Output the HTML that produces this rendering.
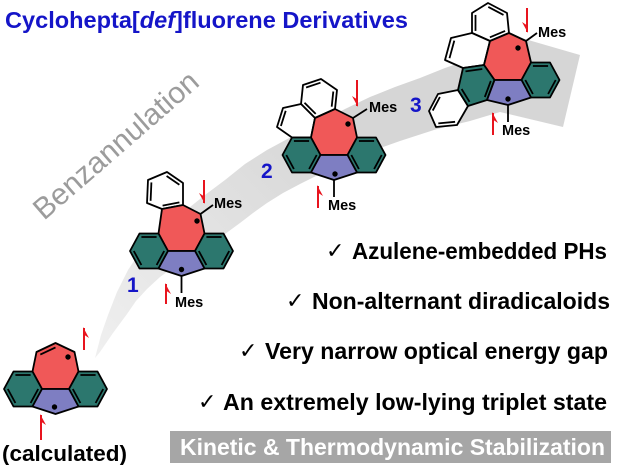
<!DOCTYPE html>
<html>
<head>
<meta charset="utf-8">
<style>
  html,body{margin:0;padding:0;background:#fff;}
  svg{display:block;}
  .b{font-family:"Liberation Sans",Arial,sans-serif;font-weight:bold;}
</style>
</head>
<body>
<svg width="618" height="465" viewBox="0 0 618 465" xmlns="http://www.w3.org/2000/svg">
  <defs>
    <linearGradient id="bg" gradientUnits="userSpaceOnUse" x1="100" y1="350" x2="330" y2="130">
      <stop offset="0" stop-color="#efefef"/>
      <stop offset="1" stop-color="#d6d6d6"/>
    </linearGradient>
  </defs>
  <rect width="618" height="465" fill="#fff"/>

  <!-- curved gray arrow -->
  <polygon fill="url(#bg)" points="95,358 101,335 108,315 117,292 128,270 140,252 155,236 170,222 185,211 205,195 225,180 245,164 267,150 293,136 320,122 345,109 370,97 395,87 420,78 445,68 465,61 487,28 580,55 563,127 500,112 470,121 437,129 400,141 372,151 347,162 322,173 300,184 283,193 267,203 253,213 240,223 225,234 210,245 192,255 175,266 160,277 147,289 136,301 127,314 113,333 100,352"/>

  <!-- Benzannulation -->
  <text x="0" y="0" transform="translate(44,221) rotate(-41)" font-family="Liberation Sans, Arial, sans-serif" font-size="30" fill="#9c9c9c" textLength="208" lengthAdjust="spacingAndGlyphs">Benzannulation</text>

  <!-- Title -->
  <text class="b" x="5" y="28" font-size="23" fill="#1515c8" textLength="403" lengthAdjust="spacingAndGlyphs">Cyclohepta[<tspan font-style="italic">def</tspan>]fluorene Derivatives</text>

  <!-- ============ Molecule: calculated ============ -->
  <g stroke="#000" stroke-width="1.8" stroke-linejoin="round">
    <polygon fill="#F05858" points="42,389 32.5,371.5 36.5,352 55.5,343 74.5,352 78.5,371.5 69,389"/>
    <polygon fill="#2C776E" points="42,389 32.5,406.5 13.5,406.5 4,389 13.5,371.5 32.5,371.5"/>
    <polygon fill="#2C776E" points="69,389 78.5,406.5 97.5,406.5 107,389 97.5,371.5 78.5,371.5"/>
    <polygon fill="#7E7EC2" points="42,389 69,389 78.5,406.5 55.5,414 32.5,406.5"/>
    <line x1="15.4" y1="375" x2="30.6" y2="375"/>
    <line x1="7.8" y1="389" x2="15.4" y2="403"/>
    <line x1="38.2" y1="389" x2="30.6" y2="403"/>
    <line x1="80.4" y1="375" x2="95.6" y2="375"/>
    <line x1="103.2" y1="389" x2="95.6" y2="403"/>
    <line x1="72.8" y1="389" x2="80.4" y2="403"/>
    <line x1="40.3" y1="354.6" x2="55.5" y2="347.4"/>
  </g>
  <circle cx="68" cy="357" r="2.7" fill="#000"/>
  <circle cx="54.5" cy="407" r="2.7" fill="#000"/>
  <g stroke="#e8141e" stroke-width="2" fill="#e8141e">
    <line x1="84" y1="350" x2="84" y2="328"/>
    <polygon stroke="none" points="83,327 89,338 83,334"/>
    <line x1="41" y1="440" x2="41" y2="415"/>
    <polygon stroke="none" points="40,414 46,425 40,421"/>
  </g>
  <text class="b" x="2" y="461" font-size="22" fill="#000" textLength="125" lengthAdjust="spacingAndGlyphs">(calculated)</text>

  <!-- ============ Molecule 1 ============ -->
  <g stroke="#000" stroke-width="1.8" stroke-linejoin="round">
    <polygon fill="#fff" points="148,180 167,172 183,183 183,205 162,209 147,203"/>
    <polygon fill="#F05858" points="168,251 158.5,233.5 162,209 183,205 200.5,214 204.5,233.5 195,251"/>
    <polygon fill="#2C776E" points="168,251 158.5,268.5 139.5,268.5 130,251 139.5,233.5 158.5,233.5"/>
    <polygon fill="#2C776E" points="195,251 204.5,268.5 223.5,268.5 233,251 223.5,233.5 204.5,233.5"/>
    <polygon fill="#7E7EC2" points="168,251 195,251 204.5,268.5 181.5,276 158.5,268.5"/>
    <line x1="141.4" y1="237" x2="156.6" y2="237"/>
    <line x1="133.8" y1="251" x2="141.4" y2="265"/>
    <line x1="164.2" y1="251" x2="156.6" y2="265"/>
    <line x1="206.4" y1="237" x2="221.6" y2="237"/>
    <line x1="229.2" y1="251" x2="221.6" y2="265"/>
    <line x1="198.8" y1="251" x2="206.4" y2="265"/>
    <line x1="151.4" y1="182.4" x2="150.6" y2="200.8"/>
    <line x1="166.6" y1="176" x2="179.4" y2="184.8"/>
    <line x1="162.6" y1="205.6" x2="179.4" y2="202.4"/>
    <line x1="200.5" y1="214" x2="213" y2="205"/>
    <line x1="181.5" y1="276" x2="181.5" y2="293"/>
  </g>
  <circle cx="197" cy="221" r="2.7" fill="#000"/>
  <circle cx="181.5" cy="269.5" r="2.7" fill="#000"/>
  <g stroke="#e8141e" stroke-width="2" fill="#e8141e">
    <line x1="204" y1="180" x2="204" y2="203"/>
    <polygon stroke="none" points="205,204 199,193 205,197"/>
    <line x1="166" y1="304" x2="166" y2="284"/>
    <polygon stroke="none" points="165,283 171,294 165,290"/>
  </g>
  <text class="b" x="214" y="208" font-size="14.5" fill="#000">Mes</text>
  <text class="b" x="175" y="307" font-size="14.5" fill="#000">Mes</text>
  <text class="b" x="127" y="292" font-size="21" fill="#1515c8">1</text>

  <!-- ============ Molecule 2 ============ -->
  <g stroke="#000" stroke-width="1.8" stroke-linejoin="round">
    <polygon fill="#fff" points="315,118 335,109 337,90 321,79 303,85 301,104"/>
    <polygon fill="#fff" points="301,104 283,108 277,127 292,137.5 311,137.5 315,118"/>
    <polygon fill="#F05858" points="320.5,155 311,137.5 315,118 335,109 353,118 357,137.5 347.5,155"/>
    <polygon fill="#2C776E" points="320.5,155 311,172.5 292,172.5 282.5,155 292,137.5 311,137.5"/>
    <polygon fill="#2C776E" points="347.5,155 357,172.5 376,172.5 385.5,155 376,137.5 357,137.5"/>
    <polygon fill="#7E7EC2" points="320.5,155 347.5,155 357,172.5 334,180 311,172.5"/>
    <line x1="293.9" y1="141" x2="309.1" y2="141"/>
    <line x1="286.3" y1="155" x2="293.9" y2="169"/>
    <line x1="316.7" y1="155" x2="309.1" y2="169"/>
    <line x1="358.9" y1="141" x2="374.1" y2="141"/>
    <line x1="381.7" y1="155" x2="374.1" y2="169"/>
    <line x1="351.3" y1="155" x2="358.9" y2="169"/>
    <line x1="306.1" y1="87.5" x2="320.5" y2="82.7"/>
    <line x1="333.3" y1="91.5" x2="331.7" y2="106.7"/>
    <line x1="304.5" y1="102.7" x2="315.7" y2="113.9"/>
    <line x1="285.7" y1="110.8" x2="280.9" y2="126"/>
    <line x1="353" y1="118" x2="367" y2="109"/>
    <line x1="334" y1="180" x2="334" y2="197"/>
  </g>
  <circle cx="348" cy="124" r="2.7" fill="#000"/>
  <circle cx="335" cy="174" r="2.7" fill="#000"/>
  <g stroke="#e8141e" stroke-width="2" fill="#e8141e">
    <line x1="357" y1="80" x2="357" y2="106"/>
    <polygon stroke="none" points="358,107 352,96 358,100"/>
    <line x1="318" y1="208" x2="318" y2="186"/>
    <polygon stroke="none" points="317,185 323,196 317,192"/>
  </g>
  <text class="b" x="369" y="112" font-size="14.5" fill="#000">Mes</text>
  <text class="b" x="328" y="210" font-size="14.5" fill="#000">Mes</text>
  <text class="b" x="261" y="178" font-size="21" fill="#1515c8">2</text>

  <!-- ============ Molecule 3 ============ -->
  <g stroke="#000" stroke-width="1.8" stroke-linejoin="round">
    <polygon fill="#fff" points="472,13 488,3 507,13 509,33 490,41 472,33"/>
    <polygon fill="#fff" points="472,33 451,38 445,60 463,68 484,65 490,41"/>
    <polygon fill="#fff" points="458,90 468,106 457,125 436,127 429,111 438,94"/>
    <polygon fill="#F05858" points="494.5,80 484,65 490,41 509,33 526,41 531,62.5 521.5,80"/>
    <polygon fill="#2C776E" points="463,68 484,65 494.5,80 487,100 468,106 458,90"/>
    <polygon fill="#2C776E" points="521.5,80 531,97.5 550,97.5 559.5,80 550,62.5 531,62.5"/>
    <polygon fill="#7E7EC2" points="494.5,80 521.5,80 531,97.5 508,105 487,100"/>
    <line x1="532.9" y1="66" x2="548.1" y2="66"/>
    <line x1="555.7" y1="80" x2="548.1" y2="94"/>
    <line x1="525.3" y1="80" x2="532.9" y2="94"/>
    <line x1="465.5" y1="71.4" x2="482.3" y2="69"/>
    <line x1="490.8" y1="81" x2="484.8" y2="97"/>
    <line x1="461.6" y1="89" x2="469.5" y2="101.8"/>
    <line x1="455.1" y1="121.8" x2="438.3" y2="123.4"/>
    <line x1="432.7" y1="110.6" x2="439.9" y2="97"/>
    <line x1="475.5" y1="14.9" x2="475.5" y2="30.9"/>
    <line x1="488.3" y1="6.9" x2="503.5" y2="14.9"/>
    <line x1="489.9" y1="37.3" x2="505.1" y2="30.9"/>
    <line x1="454.3" y1="40.6" x2="449.5" y2="58.2"/>
    <line x1="526" y1="41" x2="537" y2="33"/>
    <line x1="508" y1="105" x2="508" y2="122"/>
  </g>
  <circle cx="518" cy="48" r="2.7" fill="#000"/>
  <circle cx="508" cy="99" r="2.7" fill="#000"/>
  <g stroke="#e8141e" stroke-width="2" fill="#e8141e">
    <line x1="527" y1="8" x2="527" y2="32"/>
    <polygon stroke="none" points="528,33 522,22 528,26"/>
    <line x1="493" y1="135" x2="493" y2="113"/>
    <polygon stroke="none" points="492,112 498,123 492,119"/>
  </g>
  <text class="b" x="538" y="37" font-size="14.5" fill="#000">Mes</text>
  <text class="b" x="502" y="135" font-size="14.5" fill="#000">Mes</text>
  <text class="b" x="410" y="112" font-size="21" fill="#1515c8">3</text>

  <!-- ============ Checklist ============ -->
  <g font-family="DejaVu Sans, sans-serif" font-size="22" fill="#000">
    <text x="326" y="258">✓</text>
    <text x="286" y="308">✓</text>
    <text x="239" y="358">✓</text>
    <text x="198" y="409">✓</text>
  </g>
  <g class="b" font-size="23" fill="#000">
    <text x="352" y="259" textLength="255" lengthAdjust="spacingAndGlyphs">Azulene-embedded PHs</text>
    <text x="312" y="309" textLength="298" lengthAdjust="spacingAndGlyphs">Non-alternant diradicaloids</text>
    <text x="265" y="359" textLength="343" lengthAdjust="spacingAndGlyphs">Very narrow optical energy gap</text>
    <text x="223" y="410" textLength="384" lengthAdjust="spacingAndGlyphs">An extremely low-lying triplet state</text>
  </g>

  <!-- ============ Gray box ============ -->
  <rect x="170" y="431" width="441" height="32" fill="#a6a6a6"/>
  <text class="b" x="180" y="455" font-size="23" fill="#fff" textLength="425" lengthAdjust="spacingAndGlyphs">Kinetic &amp; Thermodynamic Stabilization</text>
</svg>
</body>
</html>
